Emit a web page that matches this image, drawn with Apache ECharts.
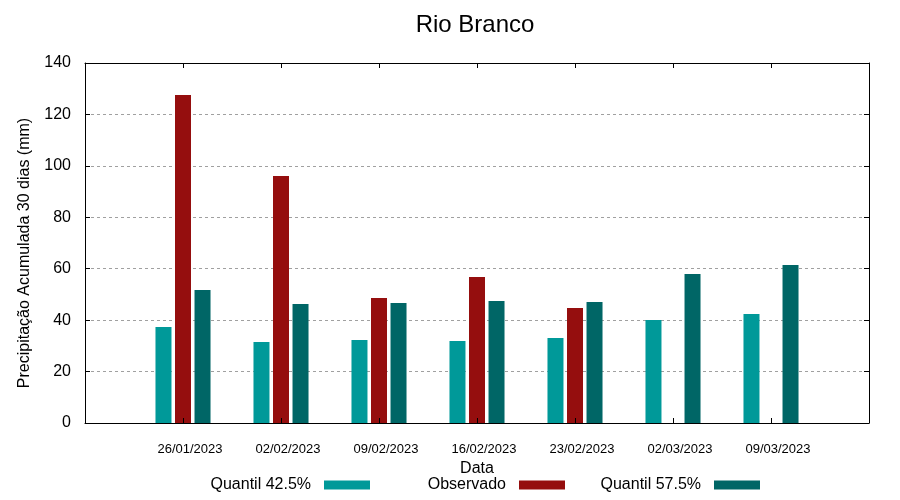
<!DOCTYPE html>
<html>
<head>
<meta charset="utf-8">
<script src="https://cdn.jsdelivr.net/npm/echarts@6/dist/echarts.min.js"></script>
<style>
html,body{margin:0;padding:0;background:#fff;}
#chart{width:900px;height:500px;}
</style>
</head>
<body>
<div id="chart"></div>
<script>
const categories = ['26/01/2023','02/02/2023','09/02/2023','16/02/2023','23/02/2023','02/03/2023','09/03/2023'];
const quantil425 = [37.3, 31.5, 32.3, 31.9, 33.1, 40.1, 42.4];
const observado = [127.6, 96.1, 48.6, 56.8, 44.7, null, null];
const quantil575 = [51.7, 46.3, 46.7, 47.4, 47.1, 57.9, 61.4];
const yTicks = [0, 20, 40, 60, 80, 100, 120, 140];

const FONT = 'Liberation Sans, Arial, sans-serif';
const pad = arr => [null].concat(arr, [null]);
const axisCats = [''].concat(categories, ['']);

const chart = echarts.init(document.getElementById('chart'));
const xBase = {
  type: 'category',
  data: axisCats,
  boundaryGap: false,
  axisLine: {show: true, onZero: false, lineStyle: {color: '#000', width: 1}},
  axisTick: {show: true, inside: true, length: 5, lineStyle: {color: '#000'}},
  splitLine: {show: false},
  z: 5
};
const yBase = {
  type: 'value',
  min: yTicks[0],
  max: yTicks[yTicks.length - 1],
  interval: 20,
  axisLine: {show: true, onZero: false, lineStyle: {color: '#000', width: 1}},
  axisTick: {show: true, inside: true, length: 5, lineStyle: {color: '#000'}}
};
chart.setOption({
  animation: false,
  backgroundColor: '#fff',
  grid: {left: 85, right: 31, top: 63, bottom: 77, containLabel: false},
  xAxis: [
    Object.assign({}, xBase, {
      position: 'bottom',
      name: 'Data', nameLocation: 'middle', nameGap: 38,
      nameTextStyle: {fontFamily: FONT, fontSize: 16, color: '#000'},
      axisLabel: {show: true, interval: 0, margin: 20, fontFamily: FONT, fontSize: 13, color: '#000', padding: [0,0,0,14]}
    }),
    Object.assign({}, xBase, {position: 'top', axisLabel: {show: false}})
  ],
  yAxis: [
    Object.assign({}, yBase, {
      position: 'left',
      axisLabel: {show: true, margin: 14, fontFamily: FONT, fontSize: 16, color: '#000'},
      splitLine: {show: true, lineStyle: {color: '#a0a0a0', width: 1, type: [3, 3]}}
    }),
    Object.assign({}, yBase, {position: 'right', axisLabel: {show: false}, splitLine: {show: false}})
  ],
  legend: [
    {data: ['Quantil 42.5%'], right: 530},
    {data: ['Observado'], right: 335},
    {data: ['Quantil 57.5%'], right: 140}
  ].map(l => Object.assign(l, {
    top: 477, padding: 0, align: 'right', icon: 'rect', itemWidth: 46, itemHeight: 9,
    selectedMode: false,
    textStyle: {fontFamily: FONT, fontSize: 16, color: '#000', padding: [0, 8, 0, 0]}
  })),
  graphic: [{
    type: 'text',
    x: 475, y: 13,
    style: {text: 'Rio Branco', fontFamily: FONT, fontSize: 24, fill: '#000', align: 'center', verticalAlign: 'top'}
  }, {
    type: 'text',
    x: 25, y: 253, rotation: Math.PI / 2,
    style: {text: 'Precipitação Acumulada 30 dias (mm)', fontFamily: FONT, fontSize: 16, fill: '#000', align: 'center', verticalAlign: 'middle'}
  }],
  series: [
    {name: 'Quantil 42.5%', type: 'bar', data: pad(quantil425), barWidth: 16, barGap: '22%', itemStyle: {color: '#009999'}},
    {name: 'Observado', type: 'bar', data: pad(observado), barWidth: 16, barGap: '22%', itemStyle: {color: '#950e0e'}},
    {name: 'Quantil 57.5%', type: 'bar', data: pad(quantil575), barWidth: 16, barGap: '22%', itemStyle: {color: '#006666'}}
  ]
});
</script>
</body>
</html>
